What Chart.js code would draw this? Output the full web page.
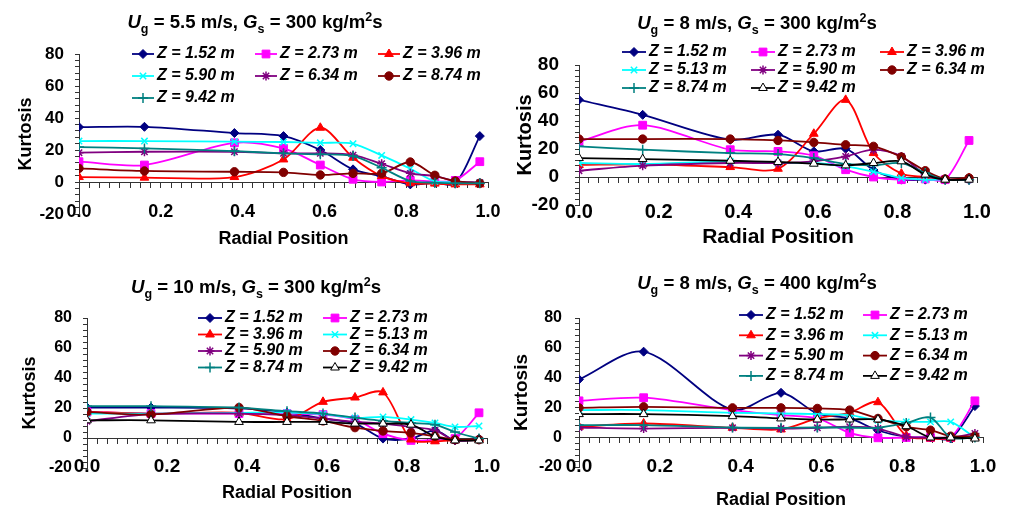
<!DOCTYPE html>
<html>
<head>
<meta charset="utf-8">
<script src="https://cdn.jsdelivr.net/npm/chart.js@4.4.0/dist/chart.umd.min.js"></script>
<style>
  body { margin: 0; background: #fff; width: 1009px; height: 510px; position: relative; overflow: hidden;
         font-family: "Liberation Sans", Arial, sans-serif; }
  canvas { position: absolute; }
  .ttl { position: absolute; font-weight: bold; font-size: 18.6px; line-height: 22px; white-space: nowrap;
         transform: translateX(-50%); color: #000; }
  .ttl sub, .ttl sup { font-size: 12.5px; line-height: 0; }
</style>
</head>
<body>
<canvas id="c1" width="500" height="255" style="left:0;top:0"></canvas>
<canvas id="c2" width="509" height="255" style="left:500px;top:0"></canvas>
<canvas id="c3" width="500" height="255" style="left:0;top:255px"></canvas>
<canvas id="c4" width="509" height="255" style="left:500px;top:255px"></canvas>
<div class="ttl" style="left:255px;top:11px"><i>U</i><sub>g</sub> = 5.5 m/s, <i>G</i><sub>s</sub> = 300 kg/m<sup>2</sup>s</div>
<div class="ttl" style="left:757px;top:12px"><i>U</i><sub>g</sub> = 8 m/s, <i>G</i><sub>s</sub> = 300 kg/m<sup>2</sup>s</div>
<div class="ttl" style="left:256px;top:276px"><i>U</i><sub>g</sub> = 10 m/s, <i>G</i><sub>s</sub> = 300 kg/m<sup>2</sup>s</div>
<div class="ttl" style="left:757px;top:272px"><i>U</i><sub>g</sub> = 8 m/s, <i>G</i><sub>s</sub> = 400 kg/m<sup>2</sup>s</div>
<script>
// shared axis data
const radialPos = [0, 0.16, 0.38, 0.5, 0.59, 0.67, 0.74, 0.81, 0.87, 0.92, 0.98];
const xTickLabels = ["0.0", "0.2", "0.4", "0.6", "0.8", "1.0"];
const yTickLabels = [-20, 0, 20, 40, 60, 80];

// Ug = 5.5 m/s, Gs = 300 kg/m2s
const namesA = ["Z = 1.52 m", "Z = 2.73 m", "Z = 3.96 m", "Z = 5.90 m", "Z = 6.34 m", "Z = 8.74 m", "Z = 9.42 m"];
const a152 = [34.3, 34.5, 30.6, 28.7, 20.0, 7.9, 3.5, -1.5, -0.5, -1.0, 28.7];
const a273 = [12.7, 10.6, 24.5, 21.0, 10.6, 1.7, 0.0, 1.0, 0.4, 1.0, 12.7];
const a396 = [3.1, 2.7, 3.1, 14.1, 33.9, 15.2, 3.7, -0.8, -1.0, -1.5, -1.5];
const a590 = [25.6, 25.6, 25.2, 25.0, 24.5, 23.9, 16.6, 8.3, 0.4, 0.0, -0.4];
const a634 = [18.3, 18.9, 18.9, 17.9, 17.9, 16.8, 11.4, 5.4, 3.7, 0.6, -0.4];
const a874 = [8.5, 6.9, 6.4, 6.0, 4.4, 5.4, 5.4, 12.5, 4.2, 0.6, -0.8];
const a942 = [21.8, 21.0, 19.3, 17.9, 17.3, 16.2, 8.9, 0.6, -0.4, -0.8, -0.8];

// the other three panels share these series names
const namesB = ["Z = 1.52 m", "Z = 2.73 m", "Z = 3.96 m", "Z = 5.13 m", "Z = 5.90 m", "Z = 6.34 m", "Z = 8.74 m", "Z = 9.42 m"];

// Ug = 8 m/s, Gs = 300 kg/m2s
const b152 = [55.1, 44.4, 26.6, 30.2, 18.3, 20.2, 5.0, -1.9, -1.9, -1.9, -2.0];
const b273 = [25.4, 37.0, 19.5, 18.3, 15.2, 5.2, 0.0, -1.9, -1.4, -1.9, 26.1];
const b396 = [8.6, 9.0, 7.1, 5.9, 30.9, 55.1, 17.1, 2.4, 0.0, -1.9, -0.7];
const b513 = [10.0, 9.3, 11.2, 10.0, 10.0, 7.6, 3.8, -0.7, -1.9, -1.9, -1.9];
const b590 = [4.5, 8.1, 10.0, 10.0, 11.2, 14.7, 19.5, 14.7, 1.7, -1.9, -1.9];
const b634 = [27.1, 27.1, 27.1, 26.1, 24.7, 23.0, 21.9, 14.3, 4.5, -1.4, -0.7];
const b874 = [21.9, 19.5, 17.1, 16.4, 13.5, 9.3, 8.3, 10.0, 2.9, -1.9, -1.9];
const b942 = [13.5, 12.8, 11.6, 10.7, 9.5, 8.3, 10.0, 11.2, 1.7, -1.9, -1.9];

// Ug = 10 m/s, Gs = 300 kg/m2s
const c152 = [20.3, 20.3, 19.7, 17.0, 13.0, 9.6, -0.4, -0.4, 5.1, -1.6, -0.5];
const c273 = [17.4, 16.3, 16.3, 16.3, 15.6, 12.3, 2.9, -1.6, -1.1, -0.4, 16.8];
const c396 = [17.4, 16.3, 16.8, 12.5, 24.1, 27.0, 30.4, -1.0, -2.2, -1.5, -1.0];
const c513 = [16.3, 16.3, 16.8, 17.0, 15.9, 13.4, 14.1, 12.3, 10.0, 7.4, 8.0];
const c590 = [11.2, 15.9, 16.3, 15.2, 13.0, 10.7, 9.6, 7.4, 5.1, -1.6, -1.1];
const c634 = [17.4, 15.6, 20.3, 14.5, 11.4, 6.9, 4.7, 3.4, 1.1, -1.1, -1.1];
const c874 = [21.2, 21.2, 20.3, 17.9, 16.3, 13.6, 11.4, 10.0, 8.9, 4.0, -0.4];
const c942 = [11.8, 11.8, 10.7, 10.7, 10.7, 9.6, 9.6, 8.9, 1.0, -1.6, -1.6];

// Ug = 8 m/s, Gs = 400 kg/m2s
const d152 = [38.8, 57.4, 18.4, 29.8, 15.9, 12.6, 4.5, 0.2, -0.2, -0.9, 20.9];
const d273 = [24.4, 26.5, 18.2, 14.8, 12.6, 2.9, -0.4, -0.2, -0.2, -0.2, 24.4];
const d396 = [7.0, 9.2, 6.3, 5.2, 12.6, 16.5, 23.5, 1.0, -0.9, -0.9, -0.2];
const d513 = [18.2, 18.2, 16.4, 15.9, 15.5, 14.8, 11.4, 10.3, 10.3, 10.3, -0.2];
const d590 = [6.5, 5.8, 6.3, 5.8, 6.3, 7.0, 5.8, 0.2, -0.2, -0.2, 2.5];
const d634 = [19.7, 20.4, 19.7, 19.7, 19.3, 18.2, 12.6, 7.0, 4.7, 0.7, 0.7];
const d874 = [8.1, 8.1, 6.5, 6.3, 6.5, 6.5, 6.3, 9.6, 13.2, -0.2, -0.2];
const d942 = [15.5, 15.5, 14.1, 12.6, 11.9, 11.9, 11.9, 7.4, -0.2, -0.2, -0.9];

// Excel-like marker styles, by series order
const seriesStyle = [
    { color: "#000080", point: "rectRot", r: 4.5 },
    { color: "#ff00ff", point: "rect", r: 5.5 },
    { color: "#ff0000", point: "triangle", r: 5 },
    { color: "#00ffff", point: "crossRot", r: 4.5 },
    { color: "#800080", point: "star", r: 4.5 },
    { color: "#800000", point: "circle", r: 4.2 },
    { color: "#008080", point: "cross", r: 5 },
    { color: "#000000", point: "triangle", r: 5, fill: "#ffffff" },
];

const axisColor = "#333333";
const FONT = '"Liberation Sans", Arial, sans-serif';
Chart.defaults.font.family = FONT;
Chart.defaults.color = "#000";

// legend drawn inside the plot, in a grid of rows/columns like the Excel one
const gridLegend = {
    id: "gridLegend",
    afterDraw(chart, args, opts) {
        const ctx = chart.ctx;
        ctx.save();
        ctx.font = "italic bold " + opts.font + "px " + FONT;
        ctx.textBaseline = "middle";
        ctx.textAlign = "left";
        chart.data.datasets.forEach((ds, i) => {
            const x = opts.x + (i % opts.cols) * opts.colW;
            const y = opts.y + Math.floor(i / opts.cols) * opts.rowH;
            ctx.strokeStyle = ds.borderColor;
            ctx.lineWidth = ds.borderWidth;
            ctx.beginPath();
            ctx.moveTo(x, y);
            ctx.lineTo(x + opts.lineLen, y);
            ctx.stroke();
            ctx.fillStyle = ds.pointBackgroundColor;
            ctx.strokeStyle = ds.pointBorderColor;
            ctx.lineWidth = ds.pointBorderWidth;
            Chart.helpers.drawPoint(ctx, {
                pointStyle: ds.pointStyle, radius: ds.pointRadius, rotation: 0, borderWidth: ds.pointBorderWidth
            }, x + opts.lineLen / 2, y);
            ctx.fillStyle = "#000";
            ctx.fillText(ds.label, x + opts.lineLen + 3, y);
        });
        ctx.restore();
    }
};

function makePanel(id, p, names, series) {
    const lh = (s) => s * 1.2;
    const datasets = series.map((vals, i) => {
        const st = seriesStyle[i];
        const thin = st.point === "crossRot" || st.point === "cross" || st.point === "star";
        return {
            label: names[i],
            data: radialPos.map((x, j) => ({ x: x, y: vals[j] })),
            borderColor: st.color,
            backgroundColor: st.color,
            borderWidth: 1.8,
            tension: 0.3,
            fill: false,
            order: -i,
            pointStyle: st.point,
            pointRadius: st.r,
            pointBackgroundColor: st.fill || st.color,
            pointBorderColor: st.color,
            pointBorderWidth: thin ? 1.5 : 1,
        };
    });

    return new Chart(document.getElementById(id), {
        type: "line",
        data: { datasets: datasets },
        plugins: [gridLegend],
        options: {
            responsive: false,
            animation: false,
            events: [],
            layout: { autoPadding: false, padding: { left: 0, top: p.top, right: p.W - p.right, bottom: p.H - p.bottom } },
            plugins: {
                legend: { display: false },
                tooltip: { enabled: false },
                gridLegend: p.legend,
            },
            scales: {
                // labels + title, hung from the bottom of the plot (-20) so they are not clipped
                x: {
                    type: "linear", axis: "x", position: { y: -20 }, min: 0, max: 1,
                    grid: { display: false, drawTicks: false },
                    border: { display: false },
                    ticks: {
                        stepSize: 0.2, autoSkip: false, maxRotation: 0,
                        padding: p.xTickY - p.bottom - lh(p.xTick) / 2,
                        font: { size: p.xTick, weight: "bold" },
                        callback: (v, i) => xTickLabels[i],
                    },
                    title: {
                        display: true, text: "Radial Position",
                        font: { size: p.xTitle, weight: "bold" },
                        padding: { top: 0, bottom: p.H - p.xTitleY - lh(p.xTitle) / 2 },
                    },
                    afterFit: (s) => { s.height = p.H - p.bottom; },
                },
                // axis line with minor ticks crossing at zero
                x0: {
                    type: "linear", axis: "x", position: { y: 0 }, min: 0, max: 1,
                    ticks: { display: false, stepSize: 0.025, autoSkip: false },
                    grid: { drawOnChartArea: false, tickLength: 5, color: axisColor, lineWidth: 1 },
                    border: { display: true, color: axisColor, width: 1 },
                },
                y: {
                    type: "linear", position: "left", min: -20, max: 80,
                    ticks: {
                        stepSize: 4, autoSkip: false,
                        padding: p.yGap - 4,
                        font: { size: p.yTick, weight: "bold" },
                        callback: (v) => (yTickLabels.includes(v) ? String(v) : ""),
                    },
                    grid: { drawOnChartArea: false, tickLength: 4, color: axisColor },
                    border: { color: axisColor, width: 1 },
                    title: {
                        display: true, text: "Kurtosis",
                        font: { size: p.yTitle, weight: "bold" },
                        padding: { top: p.yTitleX - lh(p.yTitle) / 2, bottom: 0 },
                    },
                    afterFit: (s) => { s.width = p.left; },
                },
            },
        },
    });
}

makePanel("c1", {
    W: 500, H: 255, left: 79, top: 54, right: 488, bottom: 214,
    yTick: 17, yTitle: 18, yTitleX: 26, yGap: 15,
    xTick: 18, xTickY: 212, xTitle: 18, xTitleY: 239,
    legend: { x: 132, y: 54, colW: 123, rowH: 22, cols: 3, lineLen: 22, font: 16 },
}, namesA, [a152, a273, a396, a590, a634, a874, a942]);

makePanel("c2", {
    W: 509, H: 255, left: 79, top: 65, right: 477, bottom: 205,
    yTick: 19, yTitle: 20, yTitleX: 25, yGap: 20,
    xTick: 20, xTickY: 212, xTitle: 21, xTitleY: 237,
    legend: { x: 122, y: 52, colW: 129, rowH: 18, cols: 3, lineLen: 24, font: 16 },
}, namesB, [b152, b273, b396, b513, b590, b634, b874, b942]);

makePanel("c3", {
    W: 500, H: 255, left: 87, top: 63, right: 487, bottom: 213,
    yTick: 16, yTitle: 18, yTitleX: 30, yGap: 15,
    xTick: 19, xTickY: 212, xTitle: 18, xTitleY: 238,
    legend: { x: 198, y: 63, colW: 125, rowH: 16.5, cols: 2, lineLen: 24, font: 16 },
}, namesB, [c152, c273, c396, c513, c590, c634, c874, c942]);

makePanel("c4", {
    W: 509, H: 255, left: 79, top: 63, right: 483, bottom: 212,
    yTick: 16, yTitle: 19, yTitleX: 22, yGap: 17,
    xTick: 19, xTickY: 212, xTitle: 18, xTitleY: 245,
    legend: { x: 239, y: 60, colW: 124, rowH: 20.3, cols: 2, lineLen: 24, font: 16 },
}, namesB, [d152, d273, d396, d513, d590, d634, d874, d942]);
</script>
</body>
</html>
